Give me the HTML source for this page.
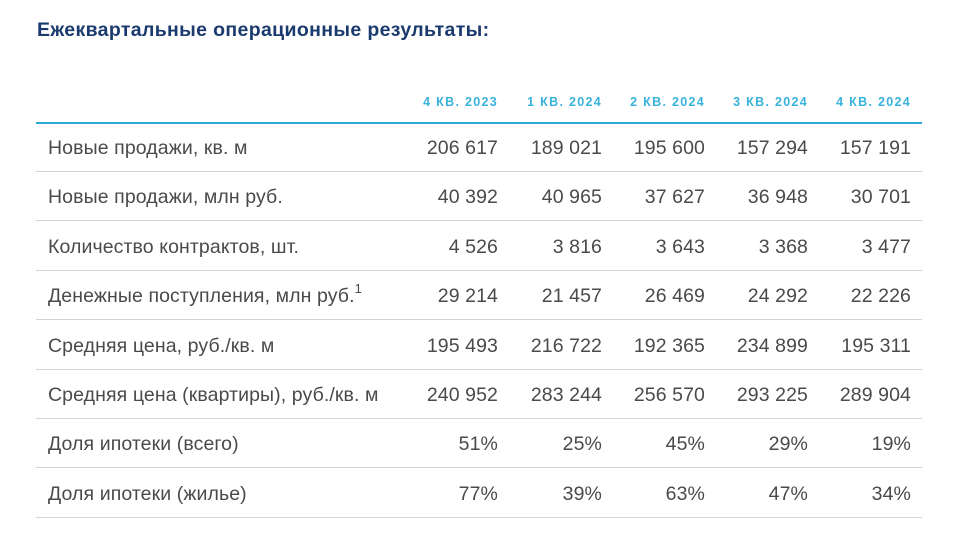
<!DOCTYPE html>
<html><head><meta charset="utf-8"><style>
body{margin:0;background:#fff;width:970px;height:549px;position:relative;overflow:hidden;font-family:"Liberation Sans","DejaVu Sans",sans-serif}
.t{position:absolute;left:37px;top:19px;font-size:19.5px;font-weight:bold;color:#1b3a6e;letter-spacing:0.35px}
.h{position:absolute;top:95px;font-size:12.5px;font-weight:bold;color:#38b2dc;letter-spacing:1.3px;text-align:right;width:110px}
.ln{position:absolute;left:36px;width:886px;height:1px;background:#d4d4d4}
.r{position:absolute;left:0;width:970px;height:24px;font-size:19.5px;color:#4a4a4a;letter-spacing:0.1px;line-height:24px}
.r span{position:absolute;top:0}
.r .l{left:48px}
.r .v{text-align:right;width:120px}
sup{font-size:13px;line-height:0;position:relative;top:-2px;vertical-align:super}
</style></head><body>
<div class="t">Ежеквартальные операционные результаты:</div>
<div class="h" style="left:388px">4 КВ. 2023</div>
<div class="h" style="left:492px">1 КВ. 2024</div>
<div class="h" style="left:595px">2 КВ. 2024</div>
<div class="h" style="left:698px">3 КВ. 2024</div>
<div class="h" style="left:801px">4 КВ. 2024</div>
<div class="ln" style="top:122px;background:#30a9d4;height:1.5px"></div>
<div id="rows"></div>
<script>
var d=[["Новые продажи, кв. м","206 617","189 021","195 600","157 294","157 191"],
["Новые продажи, млн руб.","40 392","40 965","37 627","36 948","30 701"],
["Количество контрактов, шт.","4 526","3 816","3 643","3 368","3 477"],
["Денежные поступления, млн руб.<sup>1</sup>","29 214","21 457","26 469","24 292","22 226"],
["Средняя цена, руб./кв. м","195 493","216 722","192 365","234 899","195 311"],
["Средняя цена (квартиры), руб./кв. м","240 952","283 244","256 570","293 225","289 904"],
["Доля ипотеки (всего)","51%","25%","45%","29%","19%"],
["Доля ипотеки (жилье)","77%","39%","63%","47%","34%"]];
var R=[498,602,705,808,911],h="";
d.forEach(function(r,i){var c=147+i*49.4;
h+='<div class="r" style="top:'+(c-11)+'px"><span class="l">'+r[0]+'</span>';
for(var j=0;j<5;j++)h+='<span class="v" style="left:'+(R[j]-120)+'px">'+r[j+1]+'</span>';
h+='</div><div class="ln" style="top:'+Math.round(c+24)+'px"></div>';});
document.getElementById("rows").innerHTML=h;
</script>
</body></html>
